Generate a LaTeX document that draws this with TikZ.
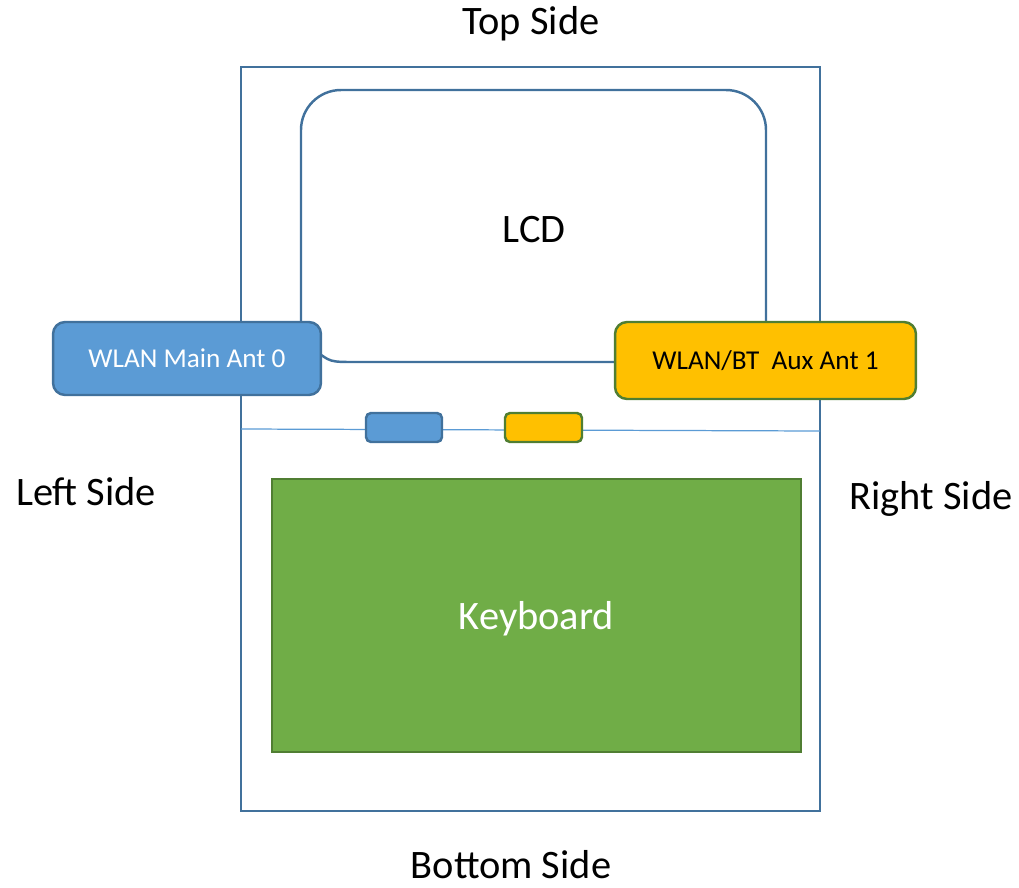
\documentclass[tikz,border=0pt]{standalone}
\usepackage{fontspec}
\setmainfont{Carlito}
\usepackage{tikz}
\definecolor{frameblue}{HTML}{41719C}
\definecolor{antblue}{HTML}{5B9BD5}
\definecolor{antyellow}{HTML}{FFC000}
\definecolor{kbgreen}{HTML}{70AD47}
\definecolor{darkgreen}{HTML}{507E32}
\tikzset{
FRAME/.style ={draw=frameblue,line join=miter,line width=1.4pt},
THIN/.style ={draw=antblue,line width=0.7pt},
ANTMAIN/.style={draw=frameblue,fill=antblue,line width=1.4pt,rounded corners=0.24cm,text=white,font=\fontsize{15.5}{18}\selectfont},
ANTAUX/.style={draw=darkgreen,fill=antyellow,line width=1.4pt,rounded corners=0.24cm,text=black,font=\fontsize{15.5}{18}\selectfont},
BIGTEXT/.style={font=\fontsize{23}{27}\selectfont},
SIDE/.style={BIGTEXT,inner sep=0pt},
}

\begin{document}
\begin{tikzpicture}[x=0.02cm,y=-0.02cm]
	\useasboundingbox (0,0) rectangle (1019,887);
	% case and lcd
	\path[FRAME] (241,67) rectangle (820,811);
	\path[FRAME,rounded corners=0.8cm] (301,345) -- (301,90) -- (766,90) -- (766,345);
	\path[FRAME] (315,350) .. controls (330,362) .. (355,362) -- (625,362);
	\coordinate (hingeL) at (241,429);
	\coordinate (hingeR) at (820,431);
	\path[THIN] (hingeL) -- (hingeR);
	% antennas
	\node[ANTMAIN,minimum width=5.36cm,minimum height=1.46cm] (main) at (187,358.5) {WLAN Main Ant 0};
	\node[ANTAUX,minimum width=6.02cm,minimum height=1.54cm] (aux) at (765.5,360.5) {WLAN/BT~~Aux Ant 1};
	\node[ANTMAIN,rounded corners=0.1cm,minimum width=1.52cm,minimum height=0.58cm] (mainconn) at (404,427.5) {};
	\node[ANTAUX,rounded corners=0.1cm,minimum width=1.54cm,minimum height=0.58cm] (auxconn) at (543.5,427.5) {};
	% keyboard
	\node[draw=darkgreen,fill=kbgreen,line width=1.4pt,minimum width=10.58cm,minimum height=5.46cm,text=white,text depth=0pt,BIGTEXT] (kbd) at (536.5,615.5) {Keyboard};
	\node[BIGTEXT] (lcd) at (534,230) {LCD};
	% sides
	\node[SIDE] (top) at (531,24) {Top Side};
	\node[SIDE] (bottom) at (511,865) {Bottom Side};
	\node[SIDE] (left) at (86,492) {Left Side};
	\node[SIDE] (right) at (931,499) {Right Side};
\end{tikzpicture}
\end{document}
